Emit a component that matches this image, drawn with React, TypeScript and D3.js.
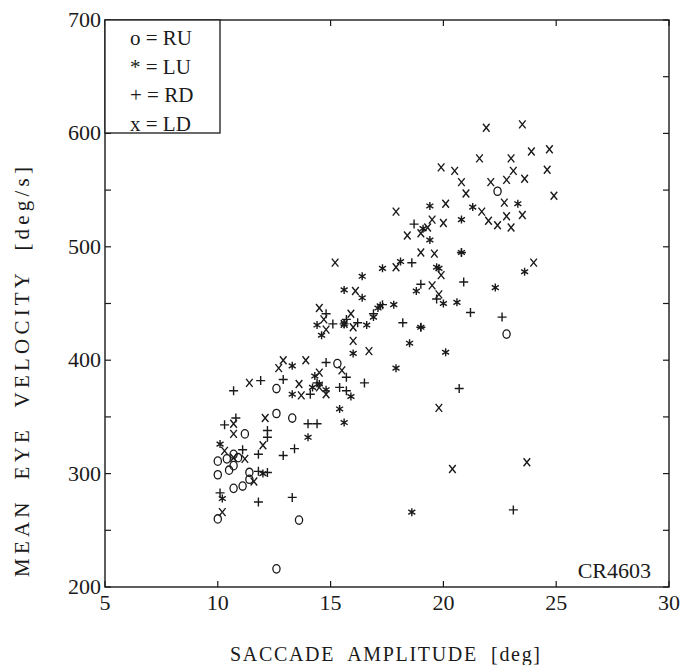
import React from "react";
import * as d3 from "d3";

// Saccade amplitude [deg] vs mean eye velocity [deg/s]
const RU: [number, number][] = [
  [22.4, 549], [22.8, 423], [15.3, 397], [12.6, 375], [12.6, 353], [13.3, 349],
  [11.2, 335], [10.7, 317], [10.0, 311], [10.4, 313], [10.9, 314], [10.7, 307],
  [10.5, 303], [10.0, 299], [11.4, 301], [11.4, 295], [11.1, 289], [10.7, 287],
  [10.0, 260], [13.6, 259], [12.6, 216],
];

const LU: [number, number][] = [
  [23.3, 538], [21.3, 535], [20.8, 524], [19.4, 536], [19.4, 506], [19.1, 516],
  [20.8, 495], [19.7, 482], [18.1, 487], [17.3, 481], [18.8, 461], [20.0, 450],
  [20.6, 451], [22.3, 464], [17.8, 449], [17.1, 446], [16.9, 438], [17.2, 448],
  [19.0, 429], [18.5, 415], [20.1, 407], [17.9, 393], [18.6, 266], [23.6, 478],
  [16.4, 474], [15.6, 462], [16.4, 455], [14.4, 431], [14.6, 422], [15.6, 432],
  [16.6, 431], [16.0, 406], [13.3, 395], [13.3, 370], [14.2, 376], [14.8, 374],
  [15.9, 368], [15.4, 357], [14.3, 386], [14.0, 332], [10.1, 326], [12.0, 300],
  [10.2, 278], [14.5, 379], [15.6, 345], [19.8, 481],
];

const RD: [number, number][] = [
  [18.7, 520], [18.6, 486], [19.0, 467], [20.9, 469], [19.7, 454], [21.2, 442],
  [22.6, 438], [18.2, 433], [19.0, 429], [20.7, 375], [23.1, 268], [17.3, 449],
  [16.9, 441], [14.8, 441], [15.1, 432], [15.7, 436], [16.2, 433], [15.6, 432],
  [20.8, 495], [14.8, 398], [15.7, 385], [14.4, 380], [15.4, 376], [15.7, 373],
  [16.5, 380], [14.1, 370], [12.9, 383], [11.9, 382], [10.7, 373], [10.3, 343],
  [10.8, 349], [12.2, 338], [12.2, 332], [11.8, 317], [12.9, 316], [13.4, 322],
  [11.1, 321], [11.8, 302], [12.2, 301], [10.1, 283], [11.8, 275], [13.3, 279],
  [14.0, 344], [14.4, 344],
];

const LD: [number, number][] = [
  [21.9, 605], [23.5, 608], [21.6, 578], [23.0, 578], [23.9, 584], [24.7, 586],
  [24.6, 568], [24.9, 545], [19.9, 570], [20.5, 567], [20.8, 557], [21.0, 547],
  [22.1, 557], [22.8, 559], [23.1, 567], [23.6, 560], [22.7, 539], [23.5, 528],
  [22.8, 527], [23.0, 517], [22.4, 519], [22.0, 523], [21.7, 531], [20.1, 538],
  [20.0, 521], [19.5, 524], [19.3, 517], [19.0, 512], [18.4, 510], [17.9, 531],
  [19.6, 494], [19.0, 495], [19.9, 475], [17.9, 482], [19.5, 466], [19.8, 458],
  [24.0, 486], [15.2, 486], [16.1, 461], [14.5, 446], [14.7, 436], [14.8, 427],
  [15.9, 441], [15.6, 432], [16.0, 429], [16.0, 417], [16.7, 408], [19.8, 358],
  [20.4, 304], [23.7, 310], [12.9, 400], [12.7, 393], [13.9, 400], [13.6, 379],
  [13.7, 369], [14.5, 389], [14.5, 376], [14.8, 370], [15.5, 391], [11.4, 380],
  [10.7, 344], [10.7, 335], [12.1, 349], [12.0, 325], [10.3, 320], [10.7, 314],
  [11.2, 313], [11.6, 293], [10.2, 266],
];

const xTicks = [5, 10, 15, 20, 25, 30];
const yTicks = [200, 300, 400, 500, 600, 700];
const yMinor = [250, 350, 450, 550, 650];
const legendItems = ["o = RU", "* = LU", "+ = RD", "x = LD"];

const W = 681, H = 665;
const L = 105, R = 669, T = 20, B = 587;
const FONT = "Liberation Serif, Times New Roman, Times, serif";
const INK = "#1a1a1a";

const shapes: Record<string, string> = {
  plus: "M-4.5,0H4.5M0,-4.5V4.5",
  x: "M-3.3,-4L3.3,4M-3.3,4L3.3,-4",
  star: "M0,-4V4M-3.5,-2.2L3.5,2.2M-3.5,2.2L3.5,-2.2",
};

const tx: React.CSSProperties = { fontFamily: FONT, whiteSpace: "pre" };

export default function App() {
  const x = d3.scaleLinear().domain([5, 30]).range([L, R]);
  const y = d3.scaleLinear().domain([200, 700]).range([B, T]);

  const mark = (key: string, pts: [number, number][]) =>
    pts.map((p, i) =>
      key === "o" ? (
        <ellipse key={key + i} cx={x(p[0])} cy={y(p[1])} rx={3.6} ry={4.2}
          fill="none" stroke={INK} strokeWidth={1.3} />
      ) : (
        <path key={key + i} d={shapes[key]} transform={`translate(${x(p[0])},${y(p[1])})`}
          fill="none" stroke={INK} strokeWidth={1.4} />
      )
    );

  return (
    <svg width={W} height={H} style={{ position: "absolute", left: 0, top: 0, background: "#fff" }}>
      <rect x={0} y={0} width={W} height={H} fill="#fff" />
      <rect x={L} y={T} width={R - L} height={B - T} fill="none" stroke={INK} strokeWidth={1.4} />
      {[...yTicks, ...yMinor].map((v) => (
        <g key={"yt" + v}>
          <line x1={L} x2={L + 6} y1={y(v)} y2={y(v)} stroke={INK} strokeWidth={1.2} />
          <line x1={R} x2={R - 6} y1={y(v)} y2={y(v)} stroke={INK} strokeWidth={1.2} />
        </g>
      ))}
      {xTicks.map((v) => (
        <g key={"xt" + v}>
          <line x1={x(v)} x2={x(v)} y1={B} y2={B - 6} stroke={INK} strokeWidth={1.2} />
          <line x1={x(v)} x2={x(v)} y1={T} y2={T + 6} stroke={INK} strokeWidth={1.2} />
        </g>
      ))}
      {yTicks.map((v) => (
        <text key={"yl" + v} x={L - 4} y={y(v) + 7} textAnchor="end" fontSize={22} fill={INK} style={tx}>{v}</text>
      ))}
      {xTicks.map((v) => (
        <text key={"xl" + v} x={x(v)} y={B + 23} textAnchor="middle" fontSize={22} fill={INK} style={tx}>{v}</text>
      ))}
      <text x={385} y={661} textAnchor="middle" fontSize={20} fill={INK} style={tx}
        textLength={310} lengthAdjust="spacing">
        {"SACCADE  AMPLITUDE  [deg]"}
      </text>
      <text transform="translate(29,372) rotate(-90)" textAnchor="middle" fontSize={21} fill={INK} style={tx}
        textLength={410} lengthAdjust="spacing">
        {"MEAN  EYE  VELOCITY  [deg/s]"}
      </text>
      <rect x={L} y={T} width={220 - L} height={133 - T} fill="#fff" stroke={INK} strokeWidth={1.3} />
      {legendItems.map((s, i) => (
        <text key={s} x={130} y={45 + i * 28.5} fontSize={21} fill={INK} style={tx}>{s}</text>
      ))}
      <text x={651} y={578} textAnchor="end" fontSize={22} fill={INK} style={tx}>CR4603</text>
      {mark("o", RU)}
      {mark("star", LU)}
      {mark("plus", RD)}
      {mark("x", LD)}
    </svg>
  );
}
